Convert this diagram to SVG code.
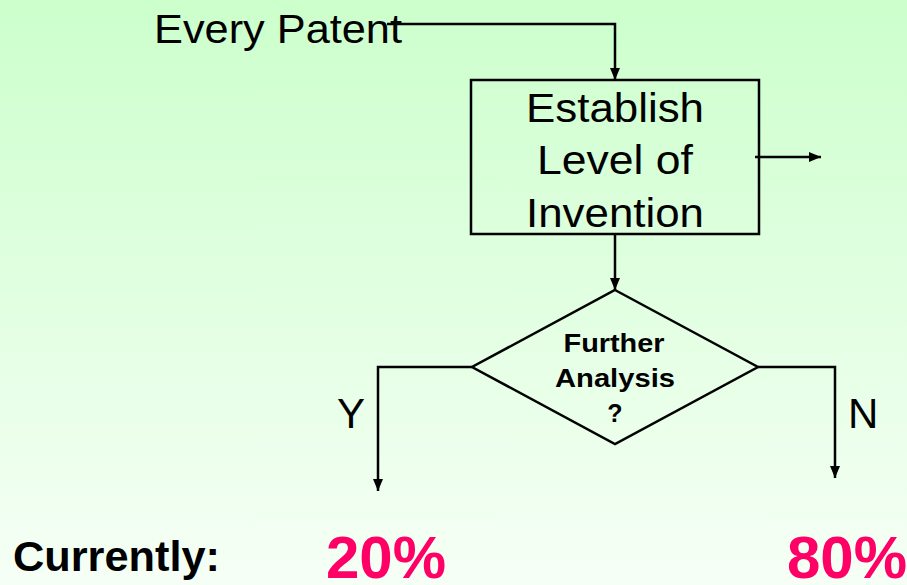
<svg xmlns="http://www.w3.org/2000/svg" width="907" height="585" viewBox="0 0 907 585">
  <defs>
    <linearGradient id="bg" x1="0" y1="0" x2="0" y2="1">
      <stop offset="0" stop-color="#CCFFCC"/>
      <stop offset="1" stop-color="#F6FFF6"/>
    </linearGradient>
    <marker id="arr" viewBox="0 0 12 10" refX="12" refY="5" markerWidth="12" markerHeight="10" markerUnits="userSpaceOnUse" orient="auto">
      <path d="M0,0 L12,5 L0,10 Z" fill="#000"/>
    </marker>
  </defs>
  <style>
    .t { font-family: "Liberation Sans", Arial, sans-serif; fill: #000; }
    .b { font-weight: bold; }
    .m { text-anchor: middle; }
    .pct { font-family: "Liberation Sans", Arial, sans-serif; font-weight: bold; fill: #FF0066; font-size: 60px; }
    .shape { fill: none; stroke: #000; stroke-width: 2.5; }
    .conn { fill: none; stroke: #000; stroke-width: 2.5; marker-end: url(#arr); }
  </style>
  <rect width="907" height="585" fill="url(#bg)"/>

  <g id="connectors">
    <path class="conn" d="M387,24 H615 V80"/>
    <path class="conn" d="M755,157 H821"/>
    <path class="conn" d="M615,234 V290"/>
    <path class="conn" d="M472,367 H378 V491"/>
    <path class="conn" d="M758,367 H835 V478"/>
  </g>

  <g id="every-patent">
    <text class="t" x="154" y="43" font-size="41" textLength="248" lengthAdjust="spacingAndGlyphs">Every Patent</text>
  </g>

  <g id="establish">
    <rect class="shape" x="471" y="80" width="288" height="154"/>
    <text class="t m" x="615" y="122" font-size="41" textLength="178" lengthAdjust="spacingAndGlyphs">Establish</text>
    <text class="t m" x="615" y="174" font-size="41" textLength="156" lengthAdjust="spacingAndGlyphs">Level of</text>
    <text class="t m" x="615" y="227" font-size="41" textLength="178" lengthAdjust="spacingAndGlyphs">Invention</text>
  </g>

  <g id="decision">
    <polygon class="shape" points="615,290 758,367 615,444 472,367"/>
    <text class="t b m" x="614" y="352" font-size="25" textLength="101" lengthAdjust="spacingAndGlyphs">Further</text>
    <text class="t b m" x="615" y="387" font-size="25" textLength="120" lengthAdjust="spacingAndGlyphs">Analysis</text>
    <text class="t b m" x="615" y="422" font-size="25">?</text>
  </g>

  <g id="labels">
    <text class="t" x="337" y="428" font-size="42">Y</text>
    <text class="t" x="848" y="428" font-size="42">N</text>
  </g>

  <g id="bottom">
    <text class="t b" x="13" y="571" font-size="42" textLength="207" lengthAdjust="spacingAndGlyphs">Currently:</text>
    <text class="pct" x="326" y="578">20%</text>
    <text class="pct" x="787" y="578">80%</text>
  </g>
</svg>
